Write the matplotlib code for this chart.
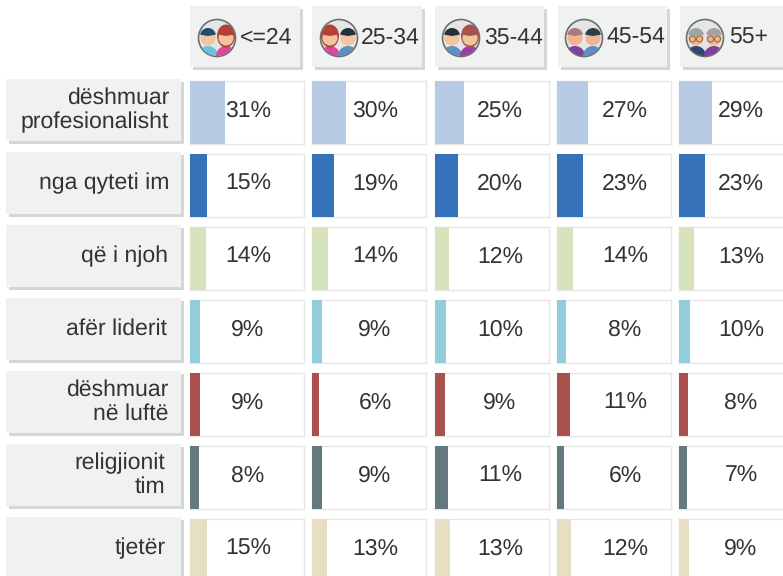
import matplotlib
matplotlib.use('Agg')
import matplotlib.pyplot as plt
from matplotlib.patches import Rectangle, Circle, Ellipse, Wedge

plt.rcParams['font.family'] = ['Liberation Sans', 'DejaVu Sans']
plt.rcParams['text.hinting'] = 'no_hinting'
plt.rcParams['text.hinting_factor'] = 1

# data
groups = ['<=24', '25-34', '35-44', '45-54', '55+']
labels = ['dëshmuar\nprofesionalisht', 'nga qyteti im', 'që i njoh', 'afër liderit',
          'dëshmuar\nnë luftë', 'religjionit\ntim', 'tjetër']
young = [31, 15, 14, 9, 9, 8, 15]
age25 = [30, 19, 14, 9, 6, 9, 13]
age35 = [25, 20, 12, 10, 9, 11, 13]
age45 = [27, 23, 14, 8, 11, 6, 12]
age55 = [29, 23, 13, 10, 8, 7, 9]
values = [young, age25, age35, age45, age55]
colors = ['#B8CBE4', '#3572BA', '#D7E3BC', '#92CDDC', '#A8514F', '#63797F', '#E6DFC3']

W, H = 783, 576
col_x = [190, 312, 435, 557, 679]
row_y = [81, 154, 227, 300, 373, 446, 519]
cell_w, cell_h = 114, 63
text_x = [248, 375, 500, 625, 741]
label_x = [169, 169, 168, 167, 168, 165, 166]
text_col = '#333333'

fig = plt.figure(figsize=(W / 100, H / 100), dpi=100)

# background layer in pixels, for boxes and icons
bg = fig.add_axes([0, 0, 1, 1])
bg.set_xlim(0, W)
bg.set_ylim(H, 0)
bg.axis('off')


def box(x, y, w, h):
    bg.add_patch(Rectangle((x + 3, y + 3), w, h, fc='#D5D6D6', ec='none'))
    bg.add_patch(Rectangle((x, y), w, h, fc='#F0F2F2', ec='none'))


def face(x, y, skin, hair, shirt, long_hair=False, glasses=False):
    bg.add_patch(Wedge((x, y + 19), 10, 180, 360, fc=shirt, ec='none', zorder=3))
    if long_hair:
        bg.add_patch(Ellipse((x, y - 1), 18, 23, fc=hair, ec='none', zorder=3))
    bg.add_patch(Ellipse((x, y + 1), 15, 15, fc=skin, ec='none', zorder=4))
    bg.add_patch(Wedge((x, y - 1), 8, 190, 350, fc=hair, ec='none', zorder=5))
    if glasses:
        for dx in (-3.5, 3.5):
            bg.add_patch(Circle((x + dx, y + 2), 3, fc='none', ec='#9A6A3A', lw=0.8, zorder=6))


# style per icon: left face, right face
icons = [
    (('#F2C49B', '#1F4E6B', '#6FC1E0', False, False), ('#F2C49B', '#B5403A', '#D94A9A', True, False)),
    (('#F2C49B', '#B5403A', '#D94A9A', True, False), ('#F2C49B', '#23323C', '#5D8FC4', False, False)),
    (('#F2C49B', '#23323C', '#5D8FC4', False, False), ('#F2C49B', '#A8514F', '#9B3FA0', True, False)),
    (('#EDB594', '#A87A78', '#7D3FA0', False, False), ('#EDB594', '#2C3E4C', '#5D8FC4', False, False)),
    (('#EDB594', '#9AA4AA', '#2F4670', False, True), ('#EDB594', '#A8A2A8', '#7D3FA0', False, True)),
]
icon_x = [217, 339, 461, 584, 705]
head_x = [190, 312, 435, 558, 680]
head_w = [110, 110, 109, 109, 110]
name_x = [240, 361, 484, 606, 729]

for i, g in enumerate(groups):
    box(head_x[i], 6, head_w[i], 61)
    cx = icon_x[i]
    bg.add_patch(Circle((cx, 38), 18.5, fc='#E4E5E6', ec='#6E6E6E', lw=1.2, zorder=2))
    clip = Circle((cx, 38), 18, transform=bg.transData)
    before = len(bg.patches)
    left, right = icons[i]
    face(cx - 9, 37, *left)
    face(cx + 9, 37, *right)
    for p in bg.patches[before:]:
        p.set_clip_path(clip)
    bg.text(name_x[i], 38, g, fontsize=16.3, color=text_col, ha='left', va='center')

for r, lab in enumerate(labels):
    box(6, row_y[r] - 2, 175, 62)
    bg.text(label_x[r], row_y[r] + 29, lab, fontsize=16.3, color=text_col, ha='right', va='center',
            linespacing=1.17)

# one small bar axes per cell
for c, series in enumerate(values):
    for r, v in enumerate(series):
        ax = fig.add_axes([col_x[c] / W, 1 - (row_y[r] + cell_h) / H, cell_w / W, cell_h / H])
        ax.barh([0], [v], height=1, align='center', color=colors[r], zorder=3)
        ax.set_xlim(0, 100)
        ax.set_ylim(-0.5, 0.5)
        ax.set_xticks([])
        ax.set_yticks([])
        for s in ax.spines.values():
            s.set_color('#E6E6E6')
            s.set_linewidth(1.0)
        fig.text(text_x[c] / W, 1 - (row_y[r] + 30) / H, f'{v}%', fontsize=16.3,
                 color=text_col, ha='center', va='center')

fig.savefig('out.png', dpi=100)
